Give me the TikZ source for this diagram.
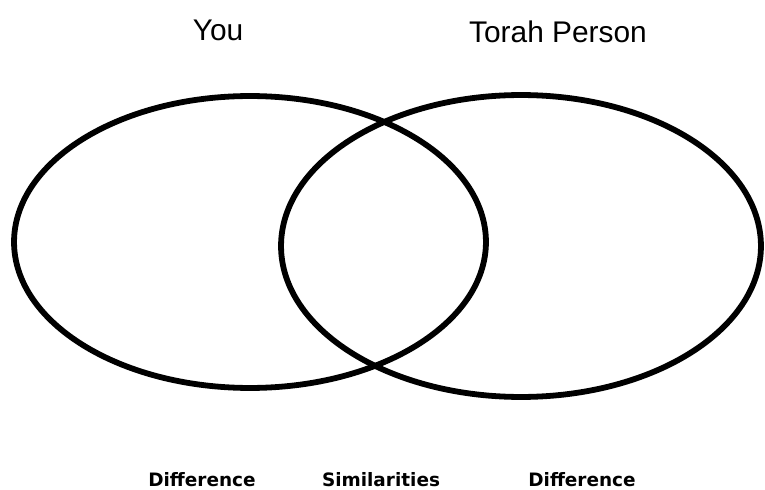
\documentclass[tikz,border=0pt]{standalone}
\usepackage{fontspec}
\setmainfont{Liberation Sans}
\newfontfamily\tagfont{DejaVu Sans}
\usetikzlibrary{positioning}

\begin{document}
\begin{tikzpicture}[
  x=0.02cm, y=-0.02cm,
  ring/.style={draw, line width=3.3pt},
  title/.style={anchor=base, inner sep=0pt, font=\fontsize{17}{20}\selectfont},
  tag/.style={anchor=base, inner sep=0pt, font=\tagfont\bfseries\fontsize{10.5}{12}\selectfont}
]
  \useasboundingbox (0,0) rectangle (765,490);
  % the two sets
  \draw[ring] (250,242) ellipse [x radius=4.72cm, y radius=2.92cm];
  \draw[ring] (521,246) ellipse [x radius=4.8cm, y radius=3.02cm];
  % headings
  \node[title] (you)   at (218,40) {You};
  \node[title] (torah) at (558,42) {Torah Person};
  % labels underneath
  \node[tag] (diffl) at (202,486) {Difference};
  \node[tag] (sim)   at (381,486) {Similarities};
  \node[tag] (diffr) at (582,486) {Difference};
\end{tikzpicture}
\end{document}
